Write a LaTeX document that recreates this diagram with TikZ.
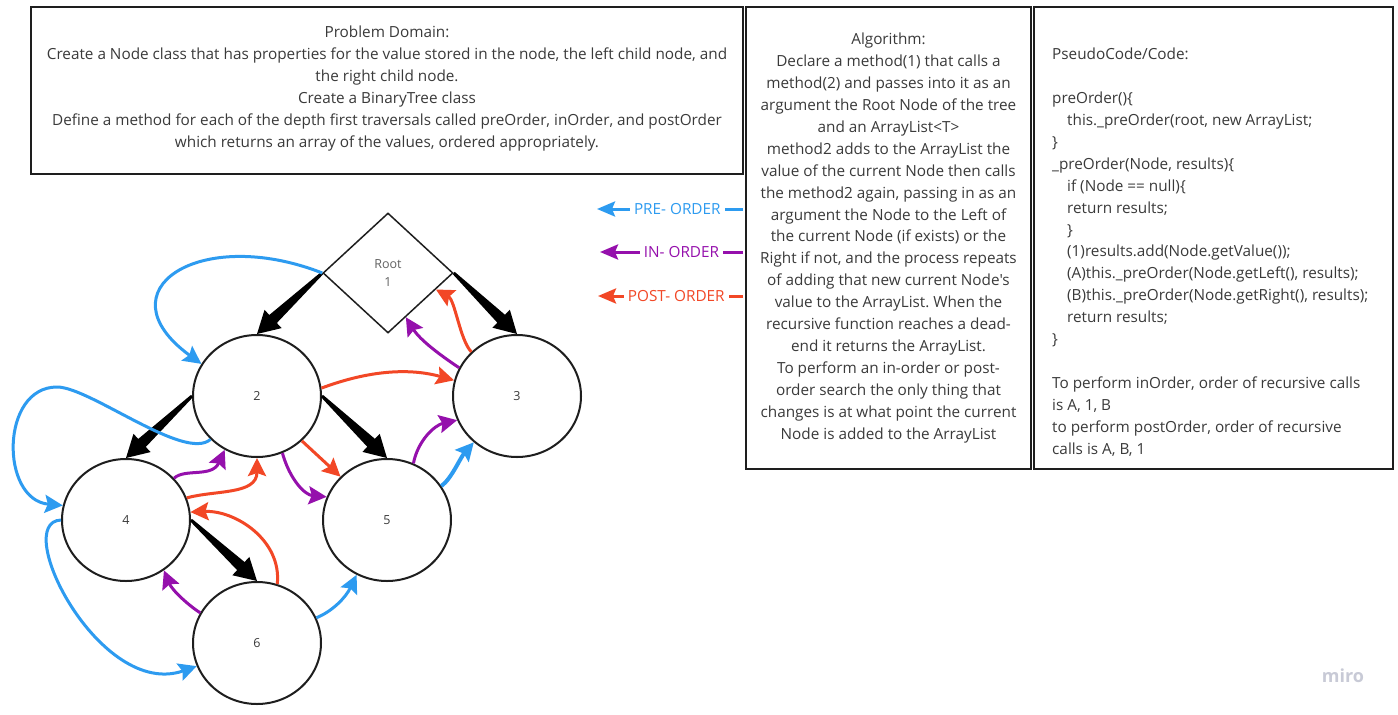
\documentclass[tikz,border=0pt]{standalone}
\usepackage{fontspec}
\setmainfont{Open Sans}[Ligatures=TeXOff]
\usetikzlibrary{shapes.geometric,arrows.meta,calc}
\definecolor{preC}{HTML}{2D9BF0}
\definecolor{inC}{HTML}{9510AC}
\definecolor{postC}{HTML}{F24726}
\definecolor{textc}{HTML}{3A3A3A}
\definecolor{boxc}{HTML}{1E1E1E}
\definecolor{miroc}{HTML}{C8CAD6}
\frenchspacing
\newcommand{\blkarrow}[2]{%
  \path ($(#2)!22pt!(#1)$) coordinate (bh);
  \fill[black] ($(#1)!1.5pt!90:(#2)$) -- ($(bh)!5.5pt!-90:(#1)$) -- ($(bh)!12.5pt!-90:(#1)$) -- (#2) -- ($(bh)!12.5pt!90:(#1)$) -- ($(bh)!5.5pt!90:(#1)$) -- ($(#1)!1.5pt!-90:(#2)$) -- cycle;}
\tikzset{
  box/.style={draw=boxc, line width=2pt, rectangle, inner sep=0pt},
  txt/.style={inner sep=0pt, text=textc, font=\fontsize{15.3}{21.9}\selectfont\frenchspacing},
  circ/.style={draw=boxc, line width=2pt, ellipse, minimum width=128pt, minimum height=122pt, inner sep=0pt, text=textc, font=\fontsize{12.5}{14}\selectfont},
  cur/.style={line width=3pt, -{Stealth[length=18pt,width=18pt,inset=3pt]}},
  leg/.style={line width=3pt, -{Stealth[length=18pt,width=15pt,inset=3pt]}},
  legtxt/.style={fill=white, inner xsep=4pt, inner ysep=2pt, font=\fontsize{15.3}{17}\selectfont},
}
\begin{document}
\begin{tikzpicture}[x=1pt,y=1pt]
\fill[white] (0,0) rectangle (1398,-715);
\useasboundingbox (0,0) rectangle (1398,-715);

% boxes
\node[box, minimum width=712pt, minimum height=167pt] (pdbox) at (387,-90.5) {};
\node[box, minimum width=285pt, minimum height=462pt] (albox) at (888.5,-238) {};
\node[box, minimum width=359pt, minimum height=462pt] (pcbox) at (1213.5,-238) {};

\node[txt, anchor=north, align=center] (pdtext) at (387,-26) {Problem Domain:\\
Create a Node class that has properties for the value stored in the node, the left child node, and\\
the right child node.\\
Create a BinaryTree class\\
Define a method for each of the depth first traversals called preOrder, inOrder, and postOrder\\
which returns an array of the values, ordered appropriately.};

\node[txt, anchor=north, align=center] (altext) at (888.5,-33) {Algorithm:\\
Declare a method(1) that calls a\\
method(2) and passes into it as an\\
argument the Root Node of the tree\\
and an ArrayList<T>\\
method2 adds to the ArrayList the\\
value of the current Node then calls\\
the method2 again, passing in as an\\
argument the Node to the Left of\\
the current Node (if exists) or the\\
Right if not, and the process repeats\\
of adding that new current Node's\\
value to the ArrayList. When the\\
recursive function reaches a dead-\\
end it returns the ArrayList.\\
To perform an in-order or post-\\
order search the only thing that\\
changes is at what point the current\\
Node is added to the ArrayList};

\node[txt, anchor=north west, align=left] (pctext) at (1052,-48) {PseudoCode/Code:\\
\mbox{}\\
preOrder()\{\\
\hspace*{15pt}this.\_preOrder(root, new ArrayList;\\
\}\\
\_preOrder(Node, results)\{\\
\hspace*{15pt}if (Node == null)\{\\
\hspace*{15pt}return results;\\
\hspace*{15pt}\}\\
\hspace*{15pt}(1)results.add(Node.getValue());\\
\hspace*{15pt}(A)this.\_preOrder(Node.getLeft(), results);\\
\hspace*{15pt}(B)this.\_preOrder(Node.getRight(), results);\\
\hspace*{15pt}return results;\\
\}\\
\mbox{}\\
To perform inOrder, order of recursive calls\\
is A, 1, B\\
to perform postOrder, order of recursive\\
calls is A, B, 1};

% legend
\coordinate (preS) at (743,-209);
\coordinate (preE) at (597,-209);
\coordinate (inS) at (743,-252);
\coordinate (inE) at (600,-252);
\coordinate (postS) at (743,-296);
\coordinate (postE) at (598,-296);
\draw[leg, preC] (preS) -- (preE) node[legtxt, pos=0.45, text=preC] {PRE- ORDER};
\draw[leg, inC] (inS) -- (inE) node[legtxt, pos=0.43, text=inC] {IN- ORDER};
\draw[leg, postC] (postS) -- (postE) node[legtxt, pos=0.46, text=postC] {POST- ORDER};

% tree nodes
\node[diamond, draw=boxc, line width=1.5pt, minimum width=130pt, minimum height=120pt, inner sep=0pt, align=center, text=textc!80, font=\fontsize{12.5}{18}\selectfont] (root) at (388,-273) {Root\\1};
\node[circ] (n2) at (257,-396) {2};
\node[circ] (n3) at (517,-396) {3};
\node[circ] (n4) at (126,-520) {4};
\node[circ] (n5) at (387,-520) {5};
\node[circ] (n6) at (257,-643) {6};

% black edges
\blkarrow{root.west}{n2.north}
\blkarrow{root.east}{n3.north}
\blkarrow{n2.west}{n4.north}
\blkarrow{n2.east}{n5.north}
\blkarrow{n4.east}{n6.north}

% pre-order
\draw[cur, preC] (root.west) .. controls (200,-225) and (100,-290) .. (n2.150);
\draw[cur, preC] (n2.223) .. controls (185,-462) and (90,-387) .. (57,-387) .. controls (0,-387) and (0,-500) .. (n4.167);
\draw[cur, preC] (n4.west) .. controls (10,-522) and (100,-700) .. (n6.201);
\draw[cur, preC] (n6.23) .. controls (333,-611) and (346,-597) .. (n5.241);
\draw[cur, preC, line width=4pt] (n5.32) .. controls (452,-478) and (460,-458) .. (n3.227);

% in-order
\draw[cur, inC] (n4.41) .. controls (185,-468) and (212,-478) .. (n2.239);
\draw[cur, inC] (n2.294) .. controls (290,-480) and (305,-495) .. (n5.159);
\draw[cur, inC] (n5.65) .. controls (418,-440) and (435,-425) .. (n3.202);
\draw[cur, inC] (n3.154) .. controls (440,-355) and (420,-340) .. (root.-68);
\draw[cur, inC] (n6.152) .. controls (188,-605) and (172,-590) .. (n4.-53);

% post-order
\draw[cur, postC] (n4.20) .. controls (215,-490) and (257,-495) .. (n2.south);
\draw[cur, postC] (n6.71) .. controls (282,-540) and (235,-510) .. (n4.7);
\draw[cur, postC] (n2.-45) -- (n5.137);
\draw[cur, postC] (n2.7) .. controls (370,-370) and (410,-368) .. (n3.166);
\draw[cur, postC] (n3.136) .. controls (460,-340) and (455,-300) .. (root.-19);

\node[text=miroc, font=\fontsize{18}{18}\selectfont\bfseries] (logo) at (1343,-676) {miro};
\end{tikzpicture}
\end{document}
